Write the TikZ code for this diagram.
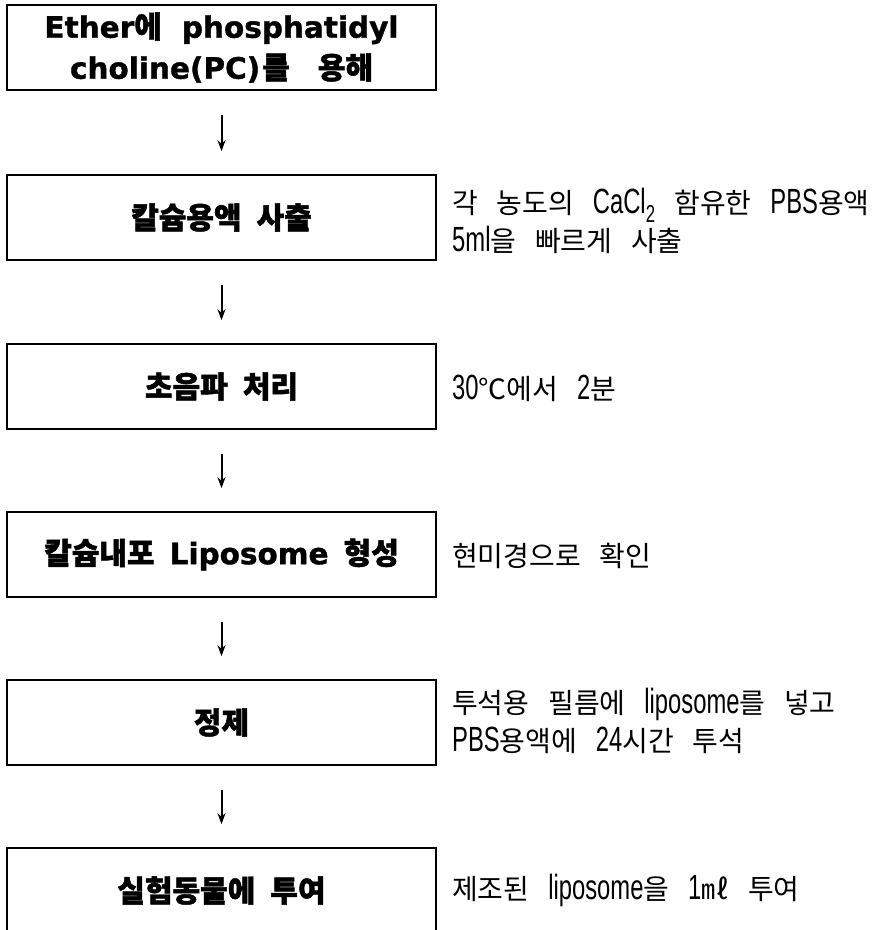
\documentclass[tikz,border=0pt]{standalone}
\usepackage{fontspec}
\usetikzlibrary{arrows.meta}
\setmainfont{Noto Sans CJK KR}
\newfontfamily\krbox{Noto Sans CJK KR}[WordSpace=2.2,BoldFeatures={FakeBold=1.6}]
\newfontfamily\krside{Noto Sans CJK KR}[WordSpace=3]
\newfontfamily\latbox{DejaVu Sans}[BoldFeatures={FakeBold=1.2}]
\newfontfamily\latside{Liberation Sans}[FakeStretch=0.68]
\newcommand\boxlat[1]{{\fontsize{29.5}{41}\selectfont\latbox\bfseries #1}}
\newcommand\sidelat[1]{{\fontsize{35}{38}\selectfont\latside #1}}
\newcommand\boxfnt{\fontsize{30}{41}\selectfont\krbox\bfseries}
\newcommand\sidefnt{\fontsize{28}{38}\selectfont\krside}
\begin{document}
\begin{tikzpicture}[x=1pt,y=-1pt,
  box/.style={draw, line width=1.6pt, minimum width=429pt, minimum height=85pt,
    inner sep=0pt, align=center, font=\boxfnt},
  side/.style={anchor=west, inner sep=0pt, align=left, font=\sidefnt},
  flow/.style={line width=2pt, -{Stealth[length=11pt,width=8pt]},
    shorten <=24pt, shorten >=23pt}]
\useasboundingbox (0,0) rectangle (879,930);
\clip (0,0) rectangle (879,930);
\fill[white] (0,0) rectangle (879,930);
\node[box] (b1) at (221.5,47.5) {\boxlat{Ether}에\hspace{20pt}\boxlat{phosphatidyl}\\{\boxlat{choline(PC)}\kern2pt 를\hspace{28pt}용해}};
\node[box] (b2) at (221.5,217.5) {칼슘용액 사출};
\node[box] (b3) at (221.5,386.5) {초음파 처리};
\node[box] (b4) at (221.5,554.5) {칼슘내포 \boxlat{Liposome} 형성};
\node[box] (b5) at (221.5,722.5) {정제};
\node[box] (b6) at (221.5,890.5) {실험동물에 투여};
\draw[flow] (b1) -- (b2);
\draw[flow] (b2) -- (b3);
\draw[flow] (b3) -- (b4);
\draw[flow] (b4) -- (b5);
\draw[flow] (b5) -- (b6);
\node[side] (s2) at (452,221) {각 농도의 \sidelat{CaCl\textsubscript{2}} 함유한 \sidelat{PBS}용액\\\sidelat{5ml}을 빠르게 사출};
\node[side] (s3) at (452,388) {\sidelat{30}℃에서 \sidelat{2}분};
\node[side] (s4) at (452,556) {현미경으로 확인};
\node[side] (s5) at (452,721) {투석용 필름에 \sidelat{liposome}를 넣고\\\sidelat{PBS}용액에 \sidelat{24}시간 투석};
\node[side] (s6) at (452,890) {제조된 \sidelat{liposome}을 \sidelat{1}㎖ 투여};
\end{tikzpicture}
\end{document}
